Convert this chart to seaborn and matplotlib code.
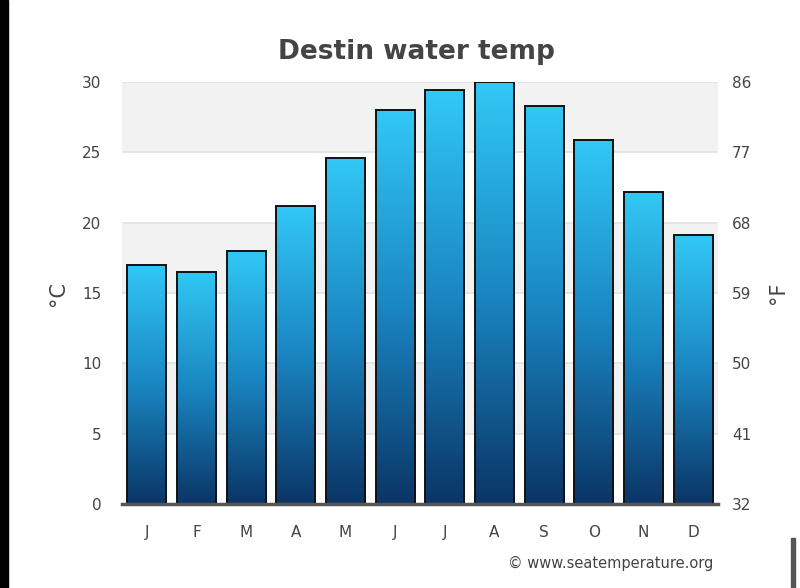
import numpy as np
import pandas as pd
import matplotlib
matplotlib.use("Agg")
import matplotlib.pyplot as plt
from matplotlib.colors import LinearSegmentedColormap
import seaborn as sns

months = ["J", "F", "M", "A", "M", "J", "J", "A", "S", "O", "N", "D"]
water_temp_c = [17.0, 16.5, 18.0, 21.2, 24.6, 28.0, 29.4, 30.0, 28.3, 25.9, 22.2, 19.1]
c_ticks = [0, 5, 10, 15, 20, 25, 30]
f_ticks = [32, 41, 50, 59, 68, 77, 86]

sns.set_style("white")
plt.rcParams['font.family'] = ['DejaVu Sans']

df = pd.DataFrame({"month": [f"{i}" for i in range(12)], "temp": water_temp_c})

fig = plt.figure(figsize=(8, 5.88), dpi=100)
ax = fig.add_axes([0.1525, 0.1429, 0.745, 0.7176])

sns.barplot(data=df, x="month", y="temp", ax=ax, width=0.79,
            color="#1a8ac4", edgecolor="#111111", linewidth=1.4, zorder=3)
bars = list(ax.patches)

# alternating background bands
for i, (lo, hi) in enumerate(zip(c_ticks[:-1], c_ticks[1:])):
    if i % 2 == 1:
        ax.axhspan(lo, hi, color="#f2f2f2", zorder=0, lw=0)
for t in c_ticks[1:]:
    ax.axhline(t, color="#e2e2e2", lw=1.2, zorder=1)

cmap = LinearSegmentedColormap.from_list("g", ["#0b3566", "#1a86c2", "#32c8f6"])
grad = np.linspace(0, 1, 256).reshape(-1, 1)
for p in bars:
    x, y, w, h = p.get_x(), p.get_y(), p.get_width(), p.get_height()
    im = ax.imshow(grad, extent=[x, x + w, y, y + h], origin="lower",
                   aspect="auto", cmap=cmap, zorder=2)
    im.set_clip_path(p)
    p.set_facecolor("none")

ax.set_xlim(-0.5, 11.5)
ax.set_ylim(0, 30)
ax.set_yticks(c_ticks)
ax.set_yticklabels([str(t) for t in c_ticks])
ax.set_xticks(range(12))
ax.set_xticklabels(months)
ax.tick_params(axis="both", length=0, colors="#444444", labelsize=11)
ax.tick_params(axis="y", pad=15)
ax.tick_params(axis="x", pad=15)
ax.set_xlabel("")
ax.set_ylabel("°C", fontsize=15, color="#444444", labelpad=10)
for s in ["top", "right", "left"]:
    ax.spines[s].set_visible(False)
ax.spines["bottom"].set_color("#555555")
ax.spines["bottom"].set_linewidth(2.5)
ax.spines["bottom"].set_zorder(5)

ax2 = ax.twinx()
ax2.set_ylim(0, 30)
ax2.set_yticks(c_ticks)
ax2.set_yticklabels([str(t) for t in f_ticks])
ax2.tick_params(axis="y", length=0, colors="#444444", labelsize=11, pad=10)
ax2.set_ylabel("°F", fontsize=15, color="#444444", labelpad=12)
for s in ax2.spines.values():
    s.set_visible(False)

fig.text(0.52, 0.912, "Destin water temp", ha="center", va="center",
         fontsize=19, fontweight="bold", color="#444444")
fig.text(0.892, 0.042, "© www.seatemperature.org", ha="right", va="center",
         fontsize=10.5, color="#444444")

# black strip at left edge of the screenshot
fig.patches.append(plt.Rectangle((0, 0), 0.01, 1, transform=fig.transFigure,
                                 color="black", zorder=10))
fig.patches.append(plt.Rectangle((0.989, 0), 0.005, 0.085, transform=fig.transFigure,
                                 color="#555555", zorder=10))

fig.savefig("out.png", dpi=100)
